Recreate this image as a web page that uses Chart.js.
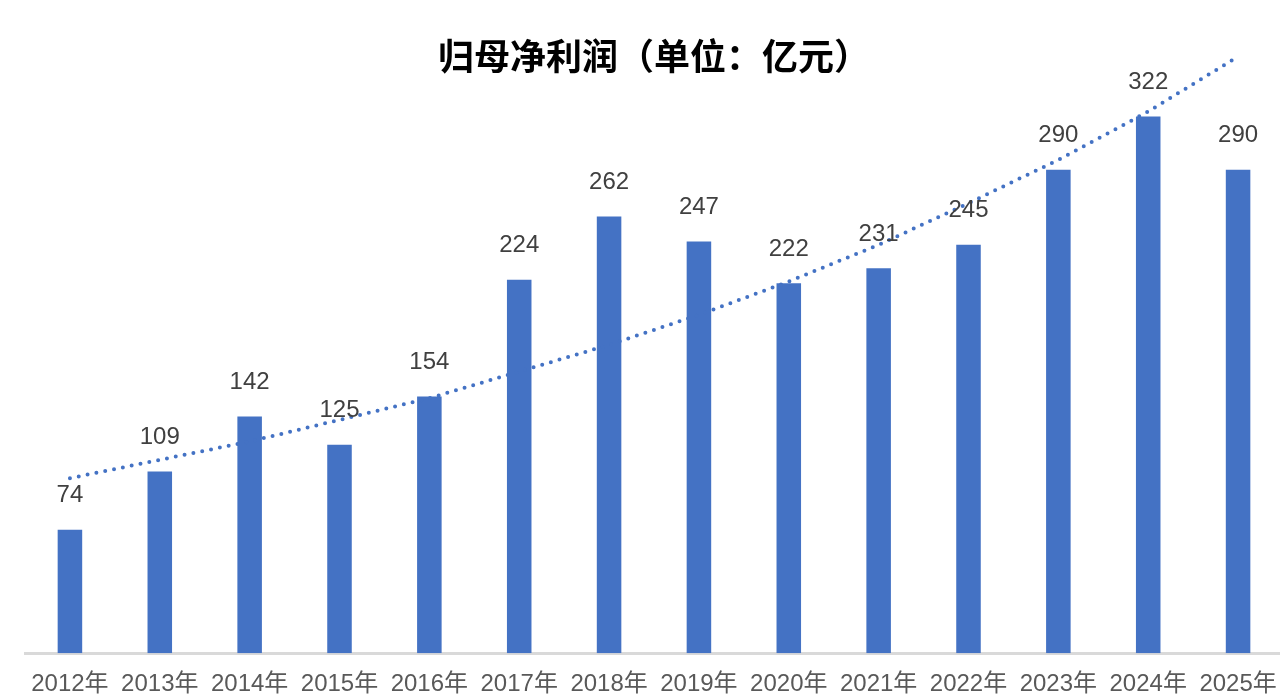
<!DOCTYPE html>
<html>
<head>
<meta charset="utf-8">
<script src="https://cdn.jsdelivr.net/npm/chart.js@4"></script>
<style>
  body { margin: 0; overflow: hidden; background: #fff; }
  #wrap { position: absolute; left: 0; top: 0; width: 1300px; height: 717px; }
</style>
</head>
<body>
<div id="wrap"><canvas id="chart" width="1300" height="717"></canvas></div>
<script>
const years = ['2012年', '2013年', '2014年', '2015年', '2016年', '2017年', '2018年',
  '2019年', '2020年', '2021年', '2022年', '2023年', '2024年', '2025年'];

const profit = [74, 109, 142, 125, 154, 224, 262, 247, 222, 231, 245, 290, 322, 290];

// dotted trend line
const trend = [105, 116, 127, 140, 153, 169, 185, 203, 223, 245, 270, 296, 325, 358];

const barColor = '#4472C4';

// value labels above the bars
const barLabels = {
  id: 'barLabels',
  afterDatasetsDraw(chart) {
    const ctx = chart.ctx;
    const meta = chart.getDatasetMeta(1);
    ctx.save();
    ctx.font = '24px "Liberation Sans", Arial, sans-serif';
    ctx.fillStyle = '#404040';
    ctx.textAlign = 'center';
    ctx.textBaseline = 'middle';
    meta.data.forEach((bar, i) => {
      ctx.fillText(String(profit[i]), bar.x, bar.y - 34);
    });
    ctx.restore();
  }
};

const data = {
  labels: years,
  datasets: [
    {
      type: 'line',
      label: '趋势',
      data: trend,
      borderColor: barColor,
      borderWidth: 4,
      borderDash: [0, 9],
      borderCapStyle: 'round',
      pointRadius: 0,
      fill: false,
      clip: false,
      order: 0
    },
    {
      type: 'bar',
      label: '归母净利润',
      data: profit,
      backgroundColor: barColor,
      categoryPercentage: 1,
      barPercentage: 0.273,
      order: 1
    }
  ]
};

const options = {
  responsive: false,
  animation: false,
  layout: {
    padding: { left: 25, right: 17, top: 0, bottom: 1 }
  },
  plugins: {
    legend: { display: false },
    tooltip: { enabled: false },
    title: {
      display: true,
      text: '归母净利润（单位：亿元）',
      color: '#000000',
      font: { family: '"Noto Sans CJK SC", sans-serif', size: 36, weight: 'bold' },
      padding: { top: 35, bottom: 0 }
    }
  },
  scales: {
    x: {
      grid: { display: false, drawTicks: false },
      border: { display: true, color: '#d9d9d9', width: 3 },
      ticks: {
        color: '#595959',
        padding: 17,
        maxRotation: 0,
        autoSkip: false,
        font: { family: '"Liberation Sans", "Noto Sans CJK SC", sans-serif', size: 24 }
      }
    },
    y: {
      display: false,
      min: 0,
      max: 345
    }
  }
};

const config = {
  type: 'bar',
  data: data,
  options: options,
  plugins: [barLabels]
};

const ctx = document.getElementById('chart');
var myChart = new Chart(ctx, config);
</script>
</body>
</html>
